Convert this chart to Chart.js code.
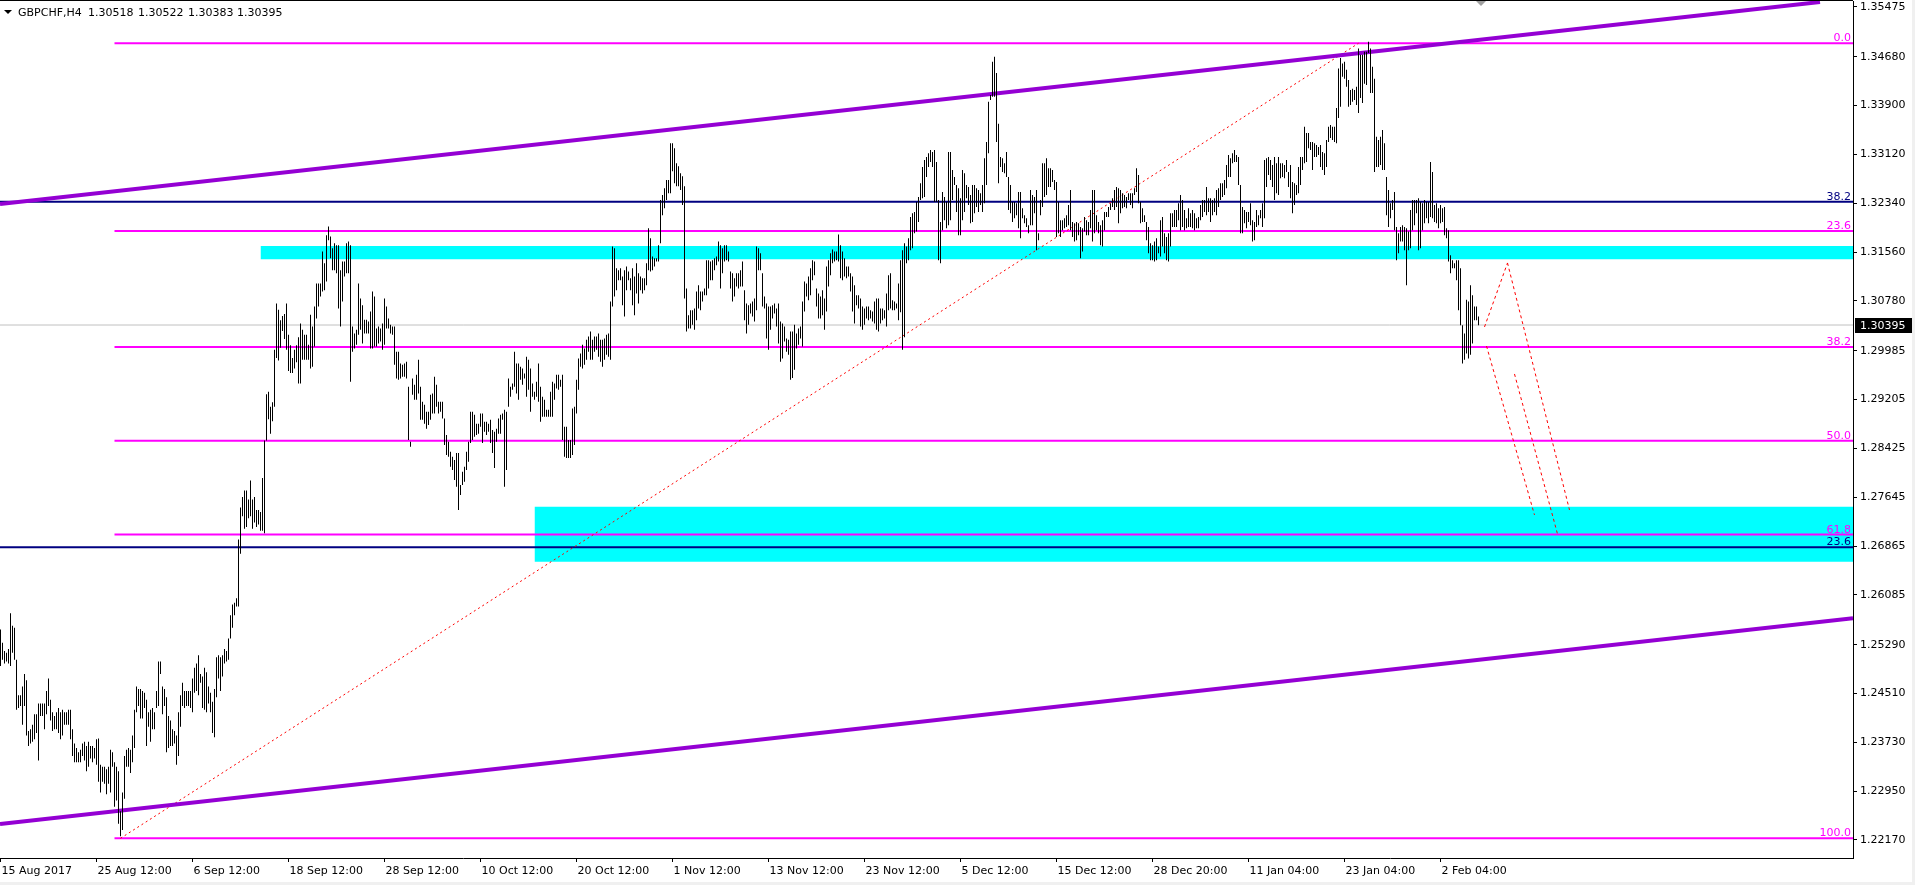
<!DOCTYPE html>
<html><head><meta charset="utf-8">
<script src="https://cdn.jsdelivr.net/npm/chart.js@4.4.1/dist/chart.umd.min.js"></script>
<style>html,body{margin:0;padding:0;background:#fff;overflow:hidden}canvas{display:block}</style>
</head><body>
<canvas id="c" width="1915" height="885"></canvas>
<script>
// ---------- data ----------
const symbolTitle = 'GBPCHF,H4';
const lastOHLC = ['1.30518', '1.30522', '1.30383', '1.30395'];
const currentPrice = 1.30395;

// H4 bar lows / highs (bar index = position in array)
const lows = [
1.2495,1.2505,1.2499,1.2502,1.2499,1.2495,1.2516,1.2505,1.2425,1.2428,
1.2431,1.2401,1.2431,1.2384,1.2367,1.2371,1.2374,1.2378,1.2388,1.2344,
1.2415,1.2415,1.2394,1.2418,1.2431,1.2408,1.2391,1.2394,1.2394,1.2388,
1.2378,1.2384,1.2401,1.2401,1.2401,1.2378,1.2351,1.2341,1.2341,1.2341,
1.2341,1.2351,1.2344,1.2327,1.2334,1.2347,1.2341,1.2347,1.2337,1.2310,
1.2293,1.2310,1.2307,1.2290,1.2307,1.2293,1.2334,1.2270,1.2280,1.2243,
1.2223,1.2233,1.2283,1.2334,1.2334,1.2324,1.2341,1.2364,1.2421,1.2431,
1.2411,1.2411,1.2428,1.2367,1.2398,1.2374,1.2394,1.2394,1.2428,1.2431,
1.2482,1.2418,1.2431,1.2357,1.2364,1.2367,1.2367,1.2371,1.2337,1.2351,
1.2398,1.2431,1.2428,1.2431,1.2431,1.2428,1.2421,1.2452,1.2455,1.2448,
1.2468,1.2428,1.2425,1.2421,1.2435,1.2421,1.2388,1.2381,1.2445,1.2475,
1.2455,1.2478,1.2499,1.2502,1.2505,1.2539,1.2556,1.2576,1.2590,1.2590,
1.2674,1.2734,1.2714,1.2717,1.2731,1.2734,1.2714,1.2724,1.2717,1.2721,
1.2711,1.2711,1.2707,1.2855,1.2889,1.2866,1.2886,1.2909,1.2987,1.2983,
1.3003,1.3030,1.3017,1.3000,1.2966,1.2963,1.2963,1.2970,1.2980,1.2946,
1.2946,1.2984,1.2984,1.2984,1.2984,1.2970,1.2973,1.3005,1.3050,1.3069,
1.3085,1.3093,1.3095,1.3109,1.3175,1.3146,1.3127,1.3127,1.3122,1.3066,
1.3037,1.3077,1.3117,1.3122,1.3122,1.2949,1.2997,1.3002,1.3008,1.3024,
1.3032,1.3010,1.3026,1.3026,1.3026,1.3002,1.3002,1.3005,1.3005,1.3010,
1.3013,1.3000,1.3008,1.3034,1.3034,1.3026,1.3024,1.2976,1.2954,1.2952,
1.2954,1.2957,1.2957,1.2954,1.2856,1.2845,1.2928,1.2920,1.2920,1.2930,
1.2888,1.2888,1.2882,1.2874,1.2880,1.2888,1.2898,1.2898,1.2909,1.2898,
1.2901,1.2890,1.2848,1.2832,1.2829,1.2813,1.2808,1.2792,1.2781,1.2744,
1.2768,1.2784,1.2789,1.2808,1.2821,1.2851,1.2856,1.2861,1.2864,1.2866,
1.2877,1.2851,1.2869,1.2864,1.2869,1.2851,1.2835,1.2811,1.2853,1.2866,
1.2866,1.2888,1.2781,1.2808,1.2909,1.2925,1.2936,1.2941,1.2930,1.2920,
1.2952,1.2944,1.2954,1.2925,1.2936,1.2901,1.2925,1.2920,1.2925,1.2917,
1.2885,1.2893,1.2893,1.2893,1.2893,1.2893,1.2893,1.2920,1.2938,1.2936,
1.2941,1.2856,1.2829,1.2827,1.2827,1.2827,1.2832,1.2848,1.2898,1.2936,
1.2973,1.2970,1.2976,1.2984,1.2997,1.2984,1.2984,1.2997,1.3000,1.2989,
1.2981,1.2973,1.2984,1.2992,1.2989,1.2984,1.3069,1.3085,1.3095,1.3111,
1.3111,1.3071,1.3053,1.3095,1.3111,1.3095,1.3071,1.3055,1.3090,1.3074,
1.3095,1.3090,1.3095,1.3103,1.3127,1.3125,1.3127,1.3133,1.3141,1.3141,
1.3170,1.3215,1.3226,1.3239,1.3250,1.3250,1.3285,1.3266,1.3261,1.3261,
1.3255,1.3231,1.3082,1.3029,1.3034,1.3034,1.3040,1.3032,1.3047,1.3066,
1.3063,1.3077,1.3087,1.3087,1.3098,1.3111,1.3111,1.3127,1.3135,1.3141,
1.3098,1.3122,1.3141,1.3143,1.3141,1.3098,1.3077,1.3085,1.3101,1.3098,
1.3101,1.3101,1.3047,1.3026,1.3040,1.3058,1.3053,1.3045,1.3063,1.3127,
1.3127,1.3069,1.3066,1.3018,1.3000,1.3032,1.3050,1.3058,1.3037,1.3010,
1.2981,1.2986,1.3013,1.2997,1.2992,1.2952,1.2955,1.2968,1.3002,1.3008,
1.3018,1.3005,1.3061,1.3085,1.3079,1.3087,1.3111,1.3119,1.3069,1.3050,
1.3050,1.3055,1.3032,1.3061,1.3101,1.3119,1.3138,1.3141,1.3143,1.3141,
1.3114,1.3111,1.3117,1.3114,1.3117,1.3093,1.3061,1.3042,1.3071,1.3066,
1.3037,1.3032,1.3040,1.3050,1.3047,1.3050,1.3045,1.3042,1.3032,1.3029,
1.3042,1.3047,1.3050,1.3037,1.3063,1.3066,1.3063,1.3063,1.3066,1.3047,
1.3060,1.3000,1.3020,1.3138,1.3143,1.3159,1.3162,1.3186,1.3189,1.3204,
1.3239,1.3242,1.3244,1.3276,1.3292,1.3300,1.3292,1.3236,1.3236,1.3143,
1.3138,1.3191,1.3207,1.3194,1.3199,1.3207,1.3239,1.3263,1.3220,1.3183,
1.3183,1.3207,1.3220,1.3242,1.3231,1.3202,1.3204,1.3218,1.3228,1.3220,
1.3231,1.3220,1.3234,1.3263,1.3314,1.3399,1.3404,1.3404,1.3332,1.3266,
1.3292,1.3284,1.3282,1.3276,1.3223,1.3218,1.3204,1.3210,1.3215,1.3194,
1.3178,1.3210,1.3202,1.3196,1.3186,1.3199,1.3199,1.3218,1.3159,1.3175,
1.3215,1.3228,1.3244,1.3247,1.3260,1.3260,1.3268,1.3255,1.3180,1.3186,
1.3180,1.3191,1.3194,1.3196,1.3199,1.3191,1.3180,1.3173,1.3175,1.3183,
1.3146,1.3157,1.3189,1.3183,1.3183,1.3194,1.3173,1.3186,1.3191,1.3186,
1.3167,1.3165,1.3191,1.3212,1.3212,1.3223,1.3228,1.3223,1.3228,1.3202,
1.3218,1.3226,1.3228,1.3226,1.3239,1.3231,1.3226,1.3247,1.3252,1.3234,
1.3202,1.3204,1.3204,1.3175,1.3154,1.3143,1.3143,1.3141,1.3143,1.3154,
1.3149,1.3165,1.3154,1.3143,1.3141,1.3165,1.3196,1.3196,1.3196,1.3207,
1.3191,1.3196,1.3191,1.3194,1.3196,1.3196,1.3194,1.3191,1.3194,1.3194,
1.3207,1.3212,1.3220,1.3215,1.3220,1.3204,1.3215,1.3220,1.3215,1.3228,
1.3239,1.3244,1.3247,1.3258,1.3276,1.3276,1.3298,1.3300,1.3300,1.3263,
1.3186,1.3186,1.3202,1.3194,1.3204,1.3199,1.3173,1.3175,1.3196,1.3199,
1.3210,1.3196,1.3210,1.3260,1.3279,1.3271,1.3260,1.3239,1.3250,1.3247,
1.3274,1.3276,1.3274,1.3284,1.3260,1.3242,1.3218,1.3231,1.3247,1.3250,
1.3263,1.3287,1.3298,1.3300,1.3322,1.3319,1.3287,1.3308,1.3308,1.3311,
1.3292,1.3287,1.3279,1.3292,1.3332,1.3338,1.3335,1.3332,1.3330,1.3370,
1.3388,1.3436,1.3433,1.3420,1.3388,1.3391,1.3396,1.3399,1.3391,1.3378,
1.3402,1.3394,1.3425,1.3423,1.3474,1.3410,1.3410,1.3284,1.3292,1.3292,
1.3295,1.3287,1.3287,1.3215,1.3196,1.3210,1.3223,1.3191,1.3143,1.3154,
1.3173,1.3173,1.3159,1.3103,1.3159,1.3162,1.3191,1.3199,1.3218,1.3159,
1.3162,1.3191,1.3202,1.3210,1.3202,1.3212,1.3210,1.3204,1.3202,1.3194,
1.3202,1.3204,1.3183,1.3178,1.3141,1.3122,1.3130,1.3130,1.3111,1.3063,
1.3039,1.2978,1.2984,1.2994,1.2986,1.2992,1.3010,1.3047,1.3047,1.3039
];
const highs = [
1.2553,1.2532,1.2519,1.2516,1.2522,1.2579,1.2559,1.2556,1.2505,1.2448,
1.2448,1.2462,1.2482,1.2472,1.2391,1.2394,1.2401,1.2418,1.2418,1.2435,
1.2435,1.2435,1.2435,1.2455,1.2475,1.2441,1.2421,1.2415,1.2421,1.2428,
1.2421,1.2425,1.2421,1.2421,1.2425,1.2425,1.2394,1.2371,1.2364,1.2357,
1.2361,1.2371,1.2374,1.2367,1.2374,1.2367,1.2367,1.2364,1.2378,1.2379,
1.2337,1.2334,1.2334,1.2330,1.2334,1.2361,1.2357,1.2341,1.2334,1.2327,
1.2263,1.2293,1.2351,1.2361,1.2364,1.2361,1.2384,1.2425,1.2462,1.2458,
1.2458,1.2455,1.2452,1.2441,1.2421,1.2425,1.2428,1.2421,1.2455,1.2502,
1.2502,1.2462,1.2458,1.2445,1.2415,1.2408,1.2394,1.2391,1.2384,1.2421,
1.2448,1.2468,1.2455,1.2455,1.2455,1.2455,1.2475,1.2492,1.2499,1.2512,
1.2482,1.2478,1.2492,1.2485,1.2462,1.2452,1.2438,1.2458,1.2509,1.2512,
1.2509,1.2512,1.2522,1.2519,1.2539,1.2576,1.2593,1.2596,1.2603,1.2697,
1.2748,1.2765,1.2775,1.2775,1.2761,1.2791,1.2761,1.2765,1.2744,1.2744,
1.2741,1.2795,1.2855,1.2929,1.2933,1.2909,1.2916,1.3000,1.3074,1.3064,
1.3047,1.3054,1.3057,1.3074,1.3024,1.3007,1.2987,1.3000,1.3007,1.3020,
1.3042,1.3032,1.3024,1.3024,1.3008,1.3056,1.3037,1.3069,1.3106,1.3106,
1.3106,1.3157,1.3138,1.3183,1.3197,1.3181,1.3162,1.3170,1.3167,1.3167,
1.3127,1.3141,1.3141,1.3170,1.3173,1.3167,1.3037,1.3026,1.3032,1.3106,
1.3082,1.3071,1.3048,1.3048,1.3045,1.3061,1.3093,1.3085,1.3034,1.3037,
1.3034,1.3042,1.3082,1.3069,1.3050,1.3040,1.3037,1.3037,1.2997,1.2997,
1.2978,1.2976,1.2978,1.2981,1.2941,1.2853,1.2954,1.2944,1.2960,1.2984,
1.2941,1.2917,1.2912,1.2901,1.2901,1.2928,1.2930,1.2957,1.2944,1.2917,
1.2917,1.2917,1.2890,1.2864,1.2853,1.2837,1.2829,1.2824,1.2835,1.2835,
1.2784,1.2805,1.2813,1.2837,1.2853,1.2901,1.2901,1.2896,1.2882,1.2882,
1.2898,1.2898,1.2885,1.2885,1.2882,1.2888,1.2872,1.2869,1.2874,1.2890,
1.2896,1.2898,1.2904,1.2901,1.2954,1.2941,1.2946,1.2997,1.2978,1.2978,
1.2973,1.2970,1.2962,1.2989,1.2984,1.2970,1.2946,1.2933,1.2949,1.2978,
1.2941,1.2925,1.2920,1.2904,1.2904,1.2933,1.2949,1.2946,1.2960,1.2960,
1.2952,1.2960,1.2877,1.2877,1.2856,1.2856,1.2906,1.2909,1.2952,1.2986,
1.2994,1.3008,1.3002,1.3016,1.3021,1.3029,1.3016,1.3021,1.3021,1.3026,
1.3016,1.3016,1.3018,1.3024,1.3026,1.3077,1.3165,1.3162,1.3130,1.3127,
1.3130,1.3117,1.3127,1.3133,1.3125,1.3114,1.3130,1.3117,1.3138,1.3122,
1.3117,1.3114,1.3114,1.3138,1.3194,1.3178,1.3149,1.3146,1.3146,1.3167,
1.3239,1.3247,1.3258,1.3271,1.3271,1.3330,1.3330,1.3322,1.3298,1.3293,
1.3282,1.3277,1.3261,1.3098,1.3055,1.3063,1.3063,1.3066,1.3093,1.3103,
1.3093,1.3093,1.3098,1.3143,1.3143,1.3141,1.3143,1.3146,1.3149,1.3173,
1.3167,1.3162,1.3167,1.3167,1.3157,1.3125,1.3122,1.3114,1.3122,1.3122,
1.3127,1.3141,1.3095,1.3074,1.3071,1.3074,1.3077,1.3082,1.3165,1.3162,
1.3154,1.3122,1.3085,1.3074,1.3069,1.3069,1.3071,1.3074,1.3066,1.3074,
1.3045,1.3042,1.3037,1.3018,1.3016,1.3029,1.3029,1.3040,1.3026,1.3034,
1.3037,1.3077,1.3109,1.3106,1.3117,1.3130,1.3143,1.3141,1.3098,1.3090,
1.3085,1.3095,1.3082,1.3133,1.3143,1.3154,1.3160,1.3157,1.3157,1.3184,
1.3167,1.3157,1.3146,1.3133,1.3133,1.3122,1.3117,1.3103,1.3087,1.3087,
1.3082,1.3069,1.3066,1.3069,1.3069,1.3063,1.3061,1.3077,1.3082,1.3082,
1.3066,1.3066,1.3063,1.3090,1.3119,1.3122,1.3079,1.3077,1.3074,1.3106,
1.3143,1.3159,1.3170,1.3165,1.3178,1.3212,1.3218,1.3220,1.3236,1.3244,
1.3266,1.3292,1.3303,1.3308,1.3314,1.3319,1.3316,1.3319,1.3300,1.3239,
1.3204,1.3252,1.3244,1.3236,1.3316,1.3316,1.3287,1.3276,1.3263,1.3258,
1.3242,1.3287,1.3282,1.3263,1.3260,1.3247,1.3263,1.3263,1.3258,1.3255,
1.3250,1.3263,1.3306,1.3332,1.3396,1.3407,1.3460,1.3468,1.3442,1.3361,
1.3308,1.3306,1.3298,1.3316,1.3276,1.3263,1.3236,1.3236,1.3234,1.3252,
1.3252,1.3226,1.3215,1.3210,1.3199,1.3255,1.3247,1.3244,1.3255,1.3186,
1.3239,1.3298,1.3298,1.3306,1.3290,1.3290,1.3287,1.3271,1.3268,1.3236,
1.3207,1.3207,1.3210,1.3215,1.3231,1.3255,1.3204,1.3202,1.3204,1.3202,
1.3196,1.3194,1.3212,1.3207,1.3204,1.3223,1.3255,1.3255,1.3215,1.3204,
1.3199,1.3207,1.3220,1.3220,1.3228,1.3234,1.3242,1.3255,1.3260,1.3258,
1.3255,1.3250,1.3247,1.3244,1.3250,1.3250,1.3250,1.3258,1.3290,1.3279,
1.3236,1.3226,1.3215,1.3204,1.3196,1.3170,1.3167,1.3173,1.3178,1.3165,
1.3207,1.3212,1.3186,1.3180,1.3186,1.3218,1.3218,1.3223,1.3223,1.3234,
1.3247,1.3239,1.3223,1.3210,1.3226,1.3218,1.3223,1.3218,1.3210,1.3212,
1.3231,1.3239,1.3239,1.3260,1.3242,1.3242,1.3239,1.3242,1.3255,1.3258,
1.3266,1.3266,1.3271,1.3295,1.3311,1.3306,1.3314,1.3319,1.3311,1.3308,
1.3263,1.3228,1.3223,1.3220,1.3220,1.3234,1.3207,1.3204,1.3223,1.3215,
1.3223,1.3234,1.3303,1.3306,1.3308,1.3303,1.3295,1.3308,1.3298,1.3308,
1.3298,1.3298,1.3295,1.3303,1.3284,1.3295,1.3268,1.3266,1.3263,1.3292,
1.3308,1.3308,1.3356,1.3346,1.3346,1.3332,1.3332,1.3330,1.3327,1.3324,
1.3327,1.3316,1.3314,1.3335,1.3356,1.3359,1.3356,1.3356,1.3386,1.3449,
1.3466,1.3457,1.3460,1.3447,1.3431,1.3415,1.3417,1.3415,1.3420,1.3481,
1.3471,1.3471,1.3476,1.3476,1.3492,1.3481,1.3452,1.3433,1.3340,1.3335,
1.3340,1.3351,1.3330,1.3276,1.3255,1.3234,1.3239,1.3252,1.3196,1.3186,
1.3196,1.3199,1.3196,1.3194,1.3189,1.3223,1.3239,1.3239,1.3239,1.3242,
1.3236,1.3234,1.3239,1.3236,1.3236,1.3300,1.3284,1.3231,1.3234,1.3226,
1.3231,1.3226,1.3228,1.3194,1.3191,1.3151,1.3143,1.3138,1.3143,1.3143,
1.3130,1.3039,1.3026,1.3080,1.3077,1.3103,1.3087,1.3069,1.3069,1.3053
];

const timeLabels = ['15 Aug 2017','25 Aug 12:00','6 Sep 12:00','18 Sep 12:00','28 Sep 12:00','10 Oct 12:00','20 Oct 12:00','1 Nov 12:00','13 Nov 12:00','23 Nov 12:00','5 Dec 12:00','15 Dec 12:00','28 Dec 20:00','11 Jan 04:00','23 Jan 04:00','2 Feb 04:00'];
const timeLabelBars = [0,48,96,144,192,240,288,336,384,432,480,528,576,624,672,720];
const priceTicks = [1.35475,1.34680,1.33900,1.33120,1.32340,1.31560,1.30780,1.29985,1.29205,1.28425,1.27645,1.26865,1.26085,1.25290,1.24510,1.23730,1.22950,1.22170];

// Fibonacci retracement (magenta) and second fib (navy)
const fibLevels = [1.34895,1.31898,1.30044,1.28546,1.27048,1.22197];
const fibLabels = ['0.0','23.6','38.2','50.0','61.8','100.0'];
const fibStartBar = 57;
const fib2Levels = [1.32365,1.26845];
const fib2Labels = ['38.2','23.6'];
// fib anchor diagonal (red dotted)
const fibDiagBars = [60,679];
const fibDiagPrices = [1.22197,1.34895];

// support/resistance zones (cyan)
const zoneStartBars = [130,267];
const zoneTops = [1.31657,1.27493];
const zoneBottoms = [1.31445,1.26615];

// channel (purple): [startBar, startPrice, endBar, endPrice]
const channelUpper = [-0.25,1.32328,909.75,1.35554];
const channelLower = [-0.25,1.22426,926.25,1.25711];

// projected path (red dotted): [bar, price] pairs
const projLines = [
  [[742,1.30364],[753.5,1.31386]],
  [[753.5,1.31386],[784.5,1.27441]],
  [[743,1.30060],[767,1.27361]],
  [[757,1.29613],[778.5,1.27057]]
];

// ---------- chart ----------
const X_MIN = -0.25, X_MAX = 926.25;
const Y_MIN = 1.218825, Y_MAX = 1.35570;
const FONT = 'DejaVu Sans';
// size the fonts so price strings and time strings get the reference widths
const mctx = document.createElement('canvas').getContext('2d');
function fitSize(text, targetW) {
  mctx.font = '20px ' + FONT;
  const w = mctx.measureText(text).width;
  return w > 0 ? Math.round(20 * targetW / w * 4) / 4 : 11;
}
const NUM_SIZE = fitSize('1.30518', 45.7);
const TIME_SIZE = fitSize('25 Aug 12:00', 75);
const NUM_FONT = NUM_SIZE + 'px ' + FONT;
Chart.defaults.font.family = FONT;
Chart.defaults.font.size = NUM_SIZE;
Chart.defaults.color = '#000';

function hline(x0, x1, y, color, width, order, extra) {
  return Object.assign({
    type: 'line', data: [{x: x0, y: y}, {x: x1, y: y}],
    borderColor: color, borderWidth: width, pointRadius: 0, fill: false, order: order, tension: 0
  }, extra || {});
}

const datasets = [];
datasets.push({
  type: 'bar',
  data: lows.map((l, i) => ({x: i, y: [l, highs[i]]})),
  backgroundColor: '#000', borderWidth: 0, barThickness: 1, inflateAmount: 0, order: 0
});
zoneTops.forEach((t, k) => {
  datasets.push(hline(zoneStartBars[k], X_MAX, t, 'rgba(0,0,0,0)', 1, 30,
    {fill: {value: zoneBottoms[k]}, backgroundColor: '#00FFFF'}));
});
datasets.push(hline(X_MIN, X_MAX, currentPrice, '#C0C0C0', 1, 25));
fibLevels.forEach(v => datasets.push(hline(fibStartBar, X_MAX, v, '#FF00FF', 2, 10)));
fib2Levels.forEach(v => datasets.push(hline(X_MIN, X_MAX, v, '#000080', 2, 10)));
[channelUpper, channelLower].forEach(ch => datasets.push({type: 'line',
  data: [{x: ch[0], y: ch[1]}, {x: ch[2], y: ch[3]}],
  borderColor: '#9400D3', borderWidth: 4, pointRadius: 0, fill: false, order: 5}));
datasets.push({type: 'line', data: [{x: fibDiagBars[0], y: fibDiagPrices[0]}, {x: fibDiagBars[1], y: fibDiagPrices[1]}],
  borderColor: '#FF0000', borderWidth: 1, borderDash: [2, 3], pointRadius: 0, fill: false, order: 8});
projLines.forEach(seg => datasets.push({type: 'line', data: seg.map(p => ({x: p[0], y: p[1]})),
  borderColor: '#FF0000', borderWidth: 1, borderDash: [3, 3], pointRadius: 0, fill: false, order: 8}));

const headerX = [18, 88, 138, 188, 237];
const decor = {
  id: 'decor',
  beforeDraw(chart) {
    const c = chart.ctx;
    c.save();
    c.fillStyle = '#fff'; c.fillRect(0, 0, chart.width, chart.height);
    c.fillStyle = '#F0F0F0';
    c.fillRect(0, 882, chart.width, 3);
    c.fillRect(1912, 0, 3, chart.height);
    c.restore();
  },
  afterDatasetsDraw(chart) {
    const c = chart.ctx, ys = chart.scales.y, a = chart.chartArea;
    c.save();
    c.font = NUM_FONT;
    c.textAlign = 'right'; c.textBaseline = 'alphabetic';
    fibLevels.forEach((v, k) => {
      c.fillStyle = '#FF00FF';
      c.fillText(fibLabels[k], a.right - 2, Math.round(ys.getPixelForValue(v)) - 2);
    });
    fib2Levels.forEach((v, k) => {
      c.fillStyle = '#000080';
      c.fillText(fib2Labels[k], a.right - 2, Math.round(ys.getPixelForValue(v)) - 2);
    });
    // header
    c.fillStyle = '#000';
    c.beginPath(); c.moveTo(4, 10); c.lineTo(12, 10); c.lineTo(8, 14); c.closePath(); c.fill();
    c.textAlign = 'left';
    [symbolTitle].concat(lastOHLC).forEach((s, k) => c.fillText(s, headerX[k], 16));
    // top border
    c.fillRect(0, 0, a.right, 1);
    // chart shift marker
    c.fillStyle = '#A0A0A0';
    c.beginPath(); c.moveTo(1476, 1); c.lineTo(1486, 1); c.lineTo(1481, 6); c.closePath(); c.fill();
    c.restore();
  },
  afterDraw(chart) {
    const c = chart.ctx, ys = chart.scales.y, a = chart.chartArea;
    const py = Math.round(ys.getPixelForValue(currentPrice));
    c.save();
    c.fillStyle = '#000';
    c.fillRect(a.right + 2, py - 7, 57, 15);
    c.fillStyle = '#fff';
    c.font = NUM_FONT;
    c.textAlign = 'left'; c.textBaseline = 'middle';
    c.fillText(currentPrice.toFixed(5), a.right + 7, py + 1);
    c.restore();
  }
};

new Chart(document.getElementById('c'), {
  type: 'bar',
  data: {datasets: datasets},
  options: {
    responsive: false, animation: false, events: [],
    layout: {padding: {left: 0, top: 1, right: 0, bottom: 0}},
    plugins: {legend: {display: false}, tooltip: {enabled: false}},
    scales: {
      x: {
        type: 'linear', min: X_MIN, max: X_MAX, offset: false,
        afterBuildTicks: s => { s.ticks = timeLabelBars.map(v => ({value: v})); },
        afterFit: s => { s.height = 27; s.paddingLeft = 0; s.paddingRight = 0; },
        ticks: {autoSkip: false, maxRotation: 0, minRotation: 0, align: 'start', labelOffset: 1, padding: 3,
          callback: (v, i) => timeLabels[i], color: '#000', font: {family: FONT, size: TIME_SIZE}},
        grid: {drawOnChartArea: false, drawTicks: true, tickLength: 4, color: '#000', offset: false},
        border: {display: true, color: '#000', width: 1}
      },
      y: {
        position: 'right', min: Y_MIN, max: Y_MAX,
        afterBuildTicks: s => { s.ticks = priceTicks.map(v => ({value: v})); },
        afterFit: s => { s.width = 62; s.paddingTop = 0; s.paddingBottom = 0; },
        ticks: {autoSkip: false, padding: 3, callback: v => v.toFixed(5), color: '#000', font: {family: FONT, size: NUM_SIZE}},
        grid: {drawOnChartArea: false, drawTicks: true, tickLength: 4, color: '#000'},
        border: {display: true, color: '#000', width: 1}
      }
    }
  },
  plugins: [decor]
});
</script>
</body></html>
